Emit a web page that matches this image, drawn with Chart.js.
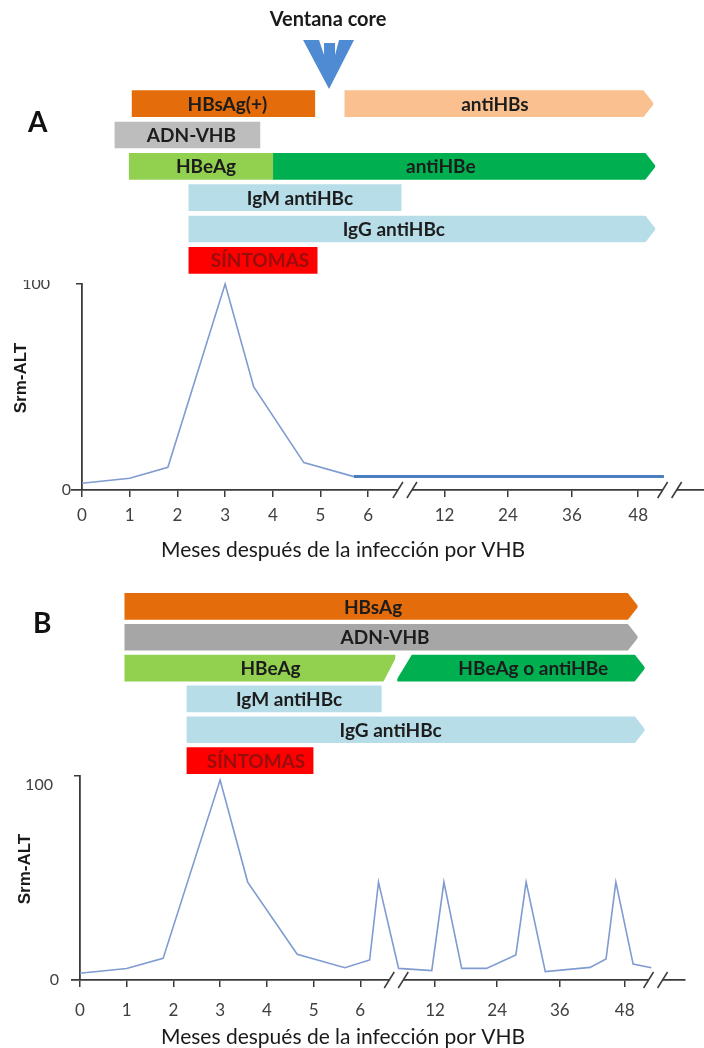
<!DOCTYPE html>
<html lang="es">
<head>
<meta charset="utf-8">
<title>Hepatitis B: marcadores serológicos</title>
<script src="https://cdn.jsdelivr.net/npm/chart.js@4.4.1/dist/chart.umd.min.js"></script>
<style>
  html, body { margin: 0; padding: 0; background: #fff; }
  #page { position: relative; width: 704px; height: 1048px; overflow: hidden; }
  #page canvas { position: absolute; left: 0; }
</style>
</head>
<body>
<div id="page">
  <canvas id="barsA" width="704" height="280" style="top:0"></canvas>
  <canvas id="lineA" width="704" height="290" style="top:280px"></canvas>
  <canvas id="barsB" width="704" height="200" style="top:580px"></canvas>
  <canvas id="lineB" width="704" height="276" style="top:772px"></canvas>
</div>
<script>
// months on the axis: 0..6 evenly spaced, then a compressed part after the break
const TICK_POS = [0, 1, 2, 3, 4, 5, 6, 7.6, 8.93, 10.27, 11.66];
const TICK_LABELS = ['0', '1', '2', '3', '4', '5', '6', '12', '24', '36', '48'];
const BREAK_POS = [6.77, 12.32];
const ROWS = ['r1', 'r2', 'r3', 'r4', 'r5', 'r6'];

// A: acute infection, resolved
const BAR_A_NAMES = ['HBsAg(+)', 'antiHBs', 'ADN-VHB', 'HBeAg', 'antiHBe', 'IgM antiHBc', 'IgG antiHBc', 'SÍNTOMAS'];
const BAR_A_ROW = [0, 0, 1, 2, 2, 3, 4, 5];
const BAR_A_FROM = [1.05, 5.51, 0.69, 0.99, 4.0, 2.24, 2.24, 2.24];
const BAR_A_TO = [4.88, 11.97, 3.73, 4.0, 12.01, 6.69, 12.01, 4.93];
const ALT_A_X = [0, 1, 1.8, 3, 3.6, 4.65, 5.7, 12.2];
const ALT_A_Y = [3.3, 5.7, 11, 100, 50, 13.3, 6.5, 6.5];

// B: chronic infection
const BAR_B_NAMES = ['HBsAg', 'ADN-VHB', 'HBeAg', 'HBeAg o antiHBe', 'IgM antiHBc', 'IgG antiHBc', 'SÍNTOMAS'];
const BAR_B_ROW = [0, 1, 2, 2, 3, 4, 5];
const BAR_B_FROM = [0.96, 0.96, 0.96, 6.77, 2.29, 2.29, 2.29];
const BAR_B_TO = [11.93, 11.93, 6.77, 12.08, 6.45, 12.08, 4.99];
const ALT_B_X = [0, 1, 1.78, 3, 3.59, 4.65, 5.67, 6.2, 6.39, 6.82, 7.53, 7.79, 8.17, 8.7, 9.33, 9.55, 9.96, 10.92, 11.26, 11.47, 11.84, 12.23];
const ALT_B_Y = [3.3, 5.6, 10.6, 98, 48, 12.6, 6, 9.8, 48, 5.7, 4.6, 48, 5.7, 5.7, 12.3, 48, 4.1, 6.2, 10.3, 48, 7.8, 6];

// styles
const BLUE_LIGHT = '#b7dde8';
const BAR_A_COLORS = ['#e46c0a', '#fac090', '#bdbdbd', '#92d050', '#00b050', BLUE_LIGHT, BLUE_LIGHT, '#ff0000'];
const BAR_A_SHAPE = ['', 'arrow', '', '', 'arrow', '', 'arrow', ''];
const BAR_A_SHIFT = [4, -4, 4, 5, -23, 5, -28, 7];
const BAR_B_COLORS = ['#e46c0a', '#a6a6a6', '#92d050', '#00b050', BLUE_LIGHT, BLUE_LIGHT, '#ff0000'];
const BAR_B_SHAPE = ['arrow', 'arrow', 'slantEnd', 'slantStart arrow', '', 'arrow', ''];
const BAR_B_SHIFT = [-8, 4, 10, 13, 5, -25, 6];
const AXIS_COLOR = '#3a3a3a';

function tri(ctx, pts) {
  ctx.beginPath();
  ctx.moveTo(pts[0], pts[1]);
  ctx.lineTo(pts[2], pts[3]);
  ctx.lineTo(pts[4], pts[5]);
  ctx.closePath();
  ctx.fill();
}

const barDecor = {
  id: 'barDecor',
  afterDatasetsDraw(chart, args, o) {
    const ctx = chart.ctx;
    ctx.save();
    chart.data.datasets.forEach((ds, i) => {
      chart.getDatasetMeta(i).data.forEach((el, k) => {
        if (ds.data[k] == null) return;
        const p = el.getProps(['x', 'y', 'base', 'height'], true);
        const l = Math.min(p.x, p.base), r = Math.max(p.x, p.base);
        const t = p.y - p.height / 2, b = p.y + p.height / 2;
        ctx.fillStyle = '#fff';
        if (ds.shape.includes('arrow')) {
          tri(ctx, [r - 10, t - 1, r + 1, t - 1, r + 1, p.y]);
          tri(ctx, [r - 10, b + 1, r + 1, b + 1, r + 1, p.y]);
        }
        if (ds.shape.includes('slantEnd')) tri(ctx, [r - 13, b + 1, r + 1, b + 1, r + 1, t]);
        if (ds.shape.includes('slantStart')) tri(ctx, [l - 1, t - 1, l + 16, t - 1, l - 1, b + 1]);
        ctx.fillStyle = ds.textColor;
        ctx.font = 'bold 19px Lato';
        ctx.textAlign = 'center';
        ctx.textBaseline = 'middle';
        ctx.fillText(ds.label, (l + r) / 2 + ds.shift, p.y + 1);
      });
    });

    ctx.fillStyle = '#111';
    ctx.font = o.letterFont;
    ctx.textAlign = 'left';
    ctx.textBaseline = 'alphabetic';
    ctx.fillText(o.letter, o.letterX, o.letterY);

    if (o.ventana != null) {
      const cx = chart.scales.x.getPixelForValue(o.ventana);
      ctx.fillStyle = '#1a1a1a';
      ctx.font = 'bold 20px Lato';
      ctx.textAlign = 'center';
      ctx.textBaseline = 'middle';
      ctx.fillText('Ventana core', cx - 2, 20);
      // down arrow: thick V with a short stem in the notch
      ctx.fillStyle = '#4f8bd3';
      ctx.beginPath();
      ctx.moveTo(cx - 27, 40);
      ctx.lineTo(cx - 11, 40);
      ctx.lineTo(cx - 6, 55);
      ctx.lineTo(cx - 6, 43);
      ctx.lineTo(cx + 5, 43);
      ctx.lineTo(cx + 5, 55);
      ctx.lineTo(cx + 9, 40);
      ctx.lineTo(cx + 24, 40);
      ctx.lineTo(cx - 1, 89);
      ctx.closePath();
      ctx.fill();
    }
    ctx.restore();
  }
};

function barsChart(id, p) {
  return new Chart(document.getElementById(id), {
    type: 'bar',
    data: {
      labels: ROWS,
      datasets: p.names.map((name, i) => ({
        label: name,
        data: ROWS.map((r, k) => (k === p.row[i] ? [p.from[i], p.to[i]] : null)),
        backgroundColor: p.colors[i],
        borderWidth: 0,
        barThickness: 26,
        grouped: false,
        shape: p.shape[i],
        shift: p.shift[i],
        textColor: name === 'SÍNTOMAS' ? '#9a0d0d' : '#1c1c1c'
      }))
    },
    options: {
      indexAxis: 'y',
      responsive: false,
      animation: false,
      layout: { padding: p.padding },
      plugins: {
        legend: { display: false },
        tooltip: { enabled: false },
        barDecor: p.decor
      },
      scales: {
        x: { type: 'linear', display: false, min: p.min, max: p.max },
        y: { display: false }
      }
    },
    plugins: [barDecor]
  });
}

const axisDecor = {
  id: 'axisDecor',
  afterDraw(chart, args, o) {
    const { ctx, chartArea: a, scales: { x, y } } = chart;
    const ax = x.getPixelForValue(0);
    const y0 = y.getPixelForValue(0);
    ctx.save();
    BREAK_POS.forEach(v => {
      const bx = x.getPixelForValue(v);
      ctx.fillStyle = '#fff';
      ctx.fillRect(bx - 7, y0 - 3, 14, 6);
      ctx.strokeStyle = AXIS_COLOR;
      ctx.lineWidth = 1.5;
      [-7, 7].forEach(d => {
        ctx.beginPath();
        ctx.moveTo(bx + d - 5, y0 + 8);
        ctx.lineTo(bx + d + 5, y0 - 8);
        ctx.stroke();
      });
    });

    ctx.fillStyle = '#404040';
    ctx.font = '16px Lato';
    ctx.textAlign = 'right';
    ctx.textBaseline = 'middle';
    ctx.fillText('100', ax - o.topGap, y.getPixelForValue(100) + o.topDy);
    ctx.fillText('0', ax - o.zeroGap, y0);

    ctx.fillStyle = '#1a1a1a';
    ctx.font = 'bold 17px "Liberation Sans"';
    ctx.textAlign = 'center';
    ctx.save();
    ctx.translate(o.yTitleX, (a.top + a.bottom) / 2 - 9);
    ctx.rotate(-Math.PI / 2);
    ctx.fillText('Srm-ALT', 0, 0);
    ctx.restore();

    ctx.font = '21px Lato';
    ctx.fillText('Meses después de la infección por VHB', 343, o.xTitleY);
    ctx.restore();
  }
};

function lineChart(id, p) {
  return new Chart(document.getElementById(id), {
    type: 'line',
    data: {
      datasets: [{
        data: p.xs.map((v, i) => ({ x: v, y: p.ys[i] })),
        borderColor: '#7f9bd0',
        borderWidth: 1.6,
        pointRadius: 0,
        tension: 0,
        clip: false,
        segment: p.segment || {}
      }]
    },
    options: {
      responsive: false,
      animation: false,
      layout: { padding: { left: 72, right: p.padRight, top: 4, bottom: 0 } },
      plugins: {
        legend: { display: false },
        tooltip: { enabled: false },
        axisDecor: p.decor
      },
      scales: {
        x: {
          type: 'linear',
          min: p.min,
          max: p.max,
          afterBuildTicks: s => { s.ticks = TICK_POS.map(v => ({ value: v })); },
          afterFit: s => { s.height = p.axisHeight; },
          grid: { drawOnChartArea: false, tickLength: 7, color: AXIS_COLOR, lineWidth: 1.5 },
          border: { color: AXIS_COLOR, width: 1.8 },
          ticks: {
            autoSkip: false,
            maxRotation: 0,
            padding: p.labelPad,
            color: '#404040',
            font: { family: 'Lato', size: 17 },
            callback: v => TICK_LABELS[TICK_POS.indexOf(v)]
          }
        },
        y: {
          type: 'linear',
          min: 0,
          max: 100,
          position: { x: 0 },
          afterBuildTicks: s => { s.ticks = [{ value: 100 }]; },
          grid: { drawOnChartArea: false, tickLength: 5, color: AXIS_COLOR, lineWidth: 1.5 },
          border: { color: AXIS_COLOR, width: 1.8 },
          ticks: { display: false }
        }
      }
    },
    plugins: [axisDecor]
  });
}

barsChart('barsA', {
  names: BAR_A_NAMES, row: BAR_A_ROW, from: BAR_A_FROM, to: BAR_A_TO,
  colors: BAR_A_COLORS, shape: BAR_A_SHAPE, shift: BAR_A_SHIFT,
  min: -0.21, max: 13.04,
  padding: { left: 72, right: 0, top: 88, bottom: 4 },
  decor: { letter: 'A', letterX: 28, letterY: 132, letterFont: 'bold 28px Lato', ventana: 5.2 }
});

lineChart('lineA', {
  xs: ALT_A_X, ys: ALT_A_Y,
  min: -0.21, max: 13.04, padRight: 0, axisHeight: 80, labelPad: 8,
  segment: {
    borderColor: c => (c.p0DataIndex >= 6 ? '#4a7ebf' : undefined),
    borderWidth: c => (c.p0DataIndex >= 6 ? 3 : undefined)
  },
  decor: { topGap: 32, topDy: 0, zeroGap: 11, yTitleX: 21, xTitleY: 270 }
});

barsChart('barsB', {
  names: BAR_B_NAMES, row: BAR_B_ROW, from: BAR_B_FROM, to: BAR_B_TO,
  colors: BAR_B_COLORS, shape: BAR_B_SHAPE, shift: BAR_B_SHIFT,
  min: -0.17, max: 12.95,
  padding: { left: 72, right: 19, top: 11, bottom: 4 },
  decor: { letter: 'B', letterX: 33, letterY: 53, letterFont: 'bold 28px Lato', ventana: null }
});

lineChart('lineB', {
  xs: ALT_B_X, ys: ALT_B_Y,
  min: -0.17, max: 12.95, padRight: 19, axisHeight: 68, labelPad: 13,
  decor: { topGap: 27, topDy: 9, zeroGap: 21, yTitleX: 25, xTitleY: 265 }
});
</script>
</body>
</html>
